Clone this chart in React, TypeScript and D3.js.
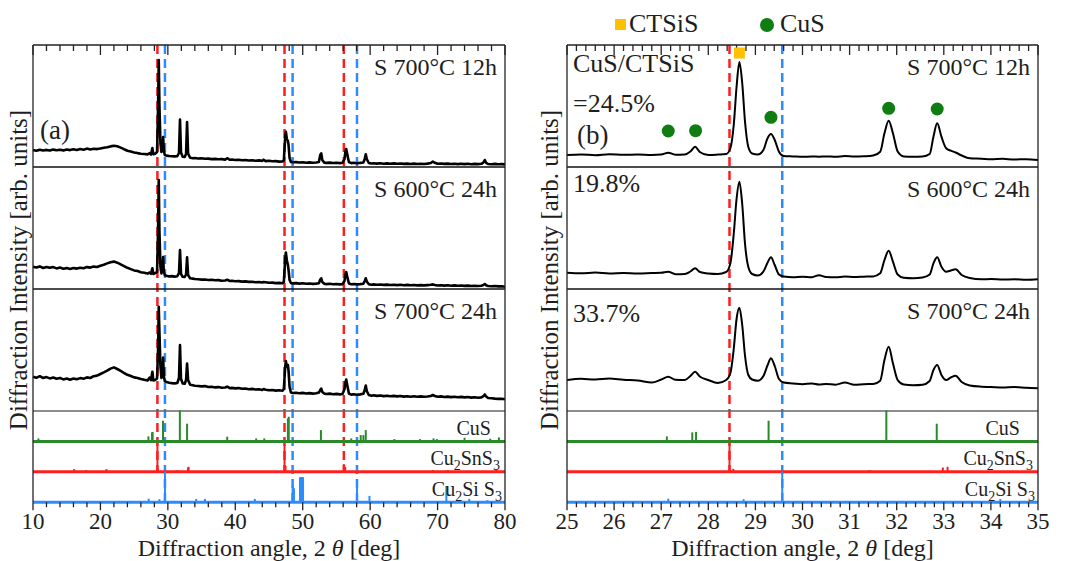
import React from 'react';
import * as d3 from 'd3';

// rows: [2θ (deg), S 700°C 12h, S 600°C 24h, S 700°C 24h]  (arb. units)
const scanA: number[][] = [
  [10.0, 17.0, 22.3, 34.3], [10.5, 16.2, 21.5, 33.2], [11.0, 17.3, 22.6, 34.8], [11.5, 16.5, 21.0, 33.0],
  [12.0, 17.1, 22.0, 33.9], [12.5, 16.4, 21.2, 32.6], [13.0, 17.4, 21.9, 33.5], [13.5, 16.8, 20.6, 32.2],
  [14.0, 17.2, 21.4, 33.1], [14.5, 16.6, 20.3, 31.6], [15.0, 17.5, 20.9, 32.4], [15.5, 16.9, 20.1, 31.3],
  [16.0, 17.7, 21.0, 32.5], [16.5, 17.0, 20.4, 31.7], [17.0, 17.9, 21.3, 32.9], [17.5, 17.2, 20.8, 32.2],
  [18.0, 18.4, 21.9, 33.6], [18.5, 17.6, 21.4, 33.0], [19.0, 18.3, 22.4, 34.8], [19.5, 17.9, 22.0, 35.4],
  [20.0, 18.6, 23.3, 37.0], [20.5, 19.3, 24.2, 38.6], [21.0, 19.8, 25.6, 40.3], [21.5, 20.6, 26.8, 42.4],
  [22.0, 21.2, 27.4, 43.6], [22.5, 20.7, 26.3, 42.0], [23.0, 19.4, 24.6, 40.1], [23.5, 17.8, 22.9, 38.0],
  [24.0, 16.3, 21.2, 36.2], [24.5, 15.5, 19.9, 35.0], [25.0, 14.6, 18.6, 33.6], [25.5, 13.9, 17.9, 33.0],
  [26.0, 13.3, 16.8, 31.9], [26.5, 13.0, 16.2, 31.2], [27.0, 12.6, 15.4, 30.6], [27.3, 13.8, 16.5, 33.5],
  [27.5, 12.5, 15.2, 30.8], [27.7, 19.0, 20.7, 39.3], [27.85, 12.8, 15.0, 30.5], [28.1, 13.2, 15.8, 31.0],
  [28.4, 15.0, 17.0, 32.5], [28.55, 60.0, 60.0, 62.0], [28.65, 107.0, 109.0, 104.3], [28.75, 62.0, 58.0, 79.0],
  [28.9, 24.0, 22.0, 45.0], [29.05, 15.0, 15.5, 33.0], [29.2, 18.0, 20.0, 38.0], [29.3, 30.0, 32.0, 53.5],
  [29.4, 17.0, 17.5, 35.0], [29.55, 12.0, 13.8, 30.0], [29.8, 11.4, 13.2, 29.0], [30.2, 11.0, 12.6, 28.3],
  [30.6, 10.7, 12.9, 27.9], [31.0, 10.6, 12.4, 27.6], [31.4, 10.9, 12.8, 28.0], [31.65, 14.0, 16.0, 33.0],
  [31.8, 47.5, 39.0, 66.0], [31.95, 14.5, 15.0, 32.0], [32.2, 10.2, 12.3, 27.5], [32.5, 10.0, 12.0, 27.2],
  [32.7, 13.0, 14.5, 31.0], [32.85, 45.0, 31.7, 47.5], [33.0, 13.5, 14.0, 31.0], [33.3, 9.2, 10.8, 26.2],
  [33.7, 8.8, 10.4, 25.7], [34.0, 9.0, 10.0, 25.3], [34.5, 8.5, 9.7, 25.0], [35.0, 8.7, 9.4, 24.6],
  [35.5, 8.2, 9.5, 24.9], [36.0, 8.4, 9.0, 24.0], [36.5, 7.9, 9.2, 24.3], [37.0, 8.1, 8.7, 23.6],
  [37.5, 7.7, 8.9, 23.9], [38.0, 7.9, 8.3, 23.2], [38.5, 7.4, 8.5, 23.5], [38.8, 8.8, 9.2, 24.4],
  [39.2, 7.2, 8.0, 22.8], [39.5, 7.5, 8.2, 23.1], [40.0, 7.0, 7.7, 22.6], [40.5, 7.3, 7.9, 22.9],
  [41.0, 6.8, 7.4, 22.2], [41.5, 7.0, 7.6, 22.5], [42.0, 6.5, 7.1, 21.8], [42.5, 6.8, 7.3, 22.1],
  [43.0, 6.3, 6.8, 21.5], [43.5, 6.6, 7.0, 21.8], [44.0, 6.1, 6.5, 21.1], [44.2, 7.3, 7.0, 21.9],
  [44.5, 5.9, 6.7, 21.3], [45.0, 6.2, 6.2, 20.7], [45.5, 5.7, 6.4, 21.0], [46.0, 5.9, 5.9, 20.4],
  [46.5, 5.4, 6.1, 20.7], [47.0, 5.6, 5.8, 20.2], [47.2, 6.5, 7.0, 22.0], [47.4, 30.0, 30.0, 44.0],
  [47.5, 35.3, 36.5, 50.0], [47.65, 28.0, 28.5, 44.0], [47.8, 26.0, 24.0, 46.0], [47.9, 22.0, 19.0, 40.0],
  [48.05, 9.0, 9.0, 24.0], [48.25, 5.0, 6.0, 18.5], [48.5, 4.7, 5.6, 18.0], [49.0, 4.9, 5.9, 18.3],
  [49.5, 4.5, 5.4, 17.8], [50.0, 4.8, 5.7, 18.1], [50.5, 4.3, 5.2, 17.5], [51.0, 4.6, 5.5, 17.9],
  [51.5, 4.2, 5.1, 17.4], [52.0, 4.5, 5.4, 17.7], [52.4, 5.0, 5.8, 18.4], [52.6, 12.0, 9.5, 21.0],
  [52.75, 13.7, 10.7, 22.5], [52.9, 7.0, 7.0, 19.0], [53.2, 4.4, 5.2, 17.4], [53.5, 4.1, 4.9, 17.0],
  [54.0, 4.4, 5.2, 17.4], [54.5, 4.0, 4.7, 16.8], [55.0, 4.3, 5.0, 17.1], [55.5, 3.9, 4.6, 16.6],
  [55.9, 4.2, 4.9, 17.0], [56.2, 8.0, 8.0, 22.0], [56.35, 16.0, 15.0, 29.0], [56.45, 18.0, 17.0, 31.5],
  [56.6, 13.0, 12.5, 26.0], [56.85, 5.0, 5.5, 17.5], [57.2, 3.9, 4.7, 16.4], [57.6, 4.2, 5.0, 16.8],
  [58.0, 3.8, 4.6, 16.2], [58.5, 4.1, 4.9, 16.6], [59.0, 4.5, 5.3, 17.2], [59.2, 8.0, 8.0, 21.0],
  [59.35, 12.7, 10.7, 25.5], [59.5, 8.0, 7.5, 20.0], [59.8, 4.0, 4.8, 16.0], [60.2, 3.5, 4.3, 15.3],
  [60.5, 3.8, 4.6, 15.7], [61.0, 3.4, 4.2, 15.1], [61.5, 3.7, 4.5, 15.5], [62.0, 3.3, 4.1, 14.9],
  [62.5, 3.6, 4.4, 15.3], [63.0, 3.2, 4.0, 14.7], [63.5, 3.6, 4.3, 15.1], [64.0, 3.2, 3.9, 14.6],
  [64.5, 3.5, 4.2, 15.0], [65.0, 3.1, 3.8, 14.4], [65.5, 3.4, 4.1, 14.8], [66.0, 3.0, 3.7, 14.3],
  [66.5, 3.4, 4.0, 14.7], [67.0, 3.0, 3.6, 14.2], [67.5, 3.3, 3.9, 14.6], [68.0, 3.0, 3.6, 14.2],
  [68.5, 3.4, 3.9, 14.5], [69.0, 4.0, 4.2, 15.0], [69.3, 5.4, 4.6, 16.0], [69.6, 4.2, 4.0, 15.0],
  [70.0, 3.2, 3.5, 14.2], [70.5, 3.5, 3.8, 14.6], [71.0, 3.1, 3.4, 14.0], [71.5, 3.4, 3.7, 14.4],
  [72.0, 3.0, 3.3, 13.9], [72.5, 3.3, 3.6, 14.3], [73.0, 2.9, 3.2, 13.7], [73.5, 3.3, 3.5, 14.1],
  [74.0, 2.9, 3.1, 13.6], [74.5, 3.2, 3.4, 14.0], [75.0, 2.8, 3.0, 13.4], [75.5, 3.1, 3.3, 13.8],
  [76.0, 2.9, 3.0, 13.3], [76.5, 3.2, 3.3, 13.6], [76.8, 4.5, 4.0, 14.8], [77.0, 7.0, 5.0, 16.5],
  [77.2, 4.2, 3.8, 14.5], [77.5, 3.0, 3.0, 13.0], [78.0, 2.8, 2.8, 12.8], [78.5, 3.1, 3.0, 12.4],
  [79.0, 2.7, 2.6, 12.1], [79.5, 2.9, 2.7, 12.3], [80.0, 2.6, 2.3, 11.7],
];

// rows: [2θ (deg), S 700°C 12h, S 600°C 24h, S 700°C 24h]  (arb. units)
const scanB: number[][] = [
  [25.0, 12.0, 16.3, 31.0], [25.3, 12.6, 15.8, 32.2], [25.6, 11.8, 16.4, 31.5], [25.9, 12.8, 15.6, 32.4],
  [26.2, 12.2, 16.0, 31.2], [26.5, 12.5, 15.4, 30.6], [26.8, 12.0, 15.9, 28.5], [27.0, 12.4, 16.2, 31.5],
  [27.15, 14.3, 17.3, 34.3], [27.3, 12.3, 14.8, 31.2], [27.5, 12.6, 15.0, 31.0], [27.62, 15.5, 17.5, 35.0],
  [27.72, 20.3, 20.7, 39.3], [27.82, 15.0, 17.0, 34.5], [28.0, 12.0, 15.5, 31.0], [28.2, 12.4, 15.0, 28.0],
  [28.38, 13.0, 17.0, 31.0], [28.47, 19.0, 26.0, 38.0], [28.54, 42.0, 55.0, 62.0], [28.6, 80.0, 90.0, 92.0],
  [28.66, 105.0, 107.3, 103.3], [28.72, 84.0, 85.0, 86.0], [28.78, 45.0, 45.0, 55.0], [28.85, 20.0, 22.0, 36.0],
  [28.93, 13.5, 15.0, 31.5], [29.05, 12.5, 13.5, 30.3], [29.17, 17.0, 17.5, 35.0], [29.26, 29.0, 26.5, 46.0],
  [29.33, 33.0, 31.7, 52.7], [29.41, 27.0, 24.0, 45.0], [29.5, 15.3, 14.5, 32.0], [29.6, 11.0, 12.5, 28.5],
  [29.8, 10.6, 11.7, 27.6], [30.0, 10.2, 12.2, 26.8], [30.2, 10.5, 11.8, 27.5], [30.35, 10.3, 13.8, 26.5],
  [30.5, 10.6, 12.0, 27.0], [30.7, 10.2, 11.8, 26.3], [30.9, 11.0, 12.4, 28.5], [31.1, 10.4, 12.0, 26.2],
  [31.3, 10.7, 12.3, 26.8], [31.5, 11.5, 12.6, 27.0], [31.65, 15.3, 15.7, 30.3], [31.74, 33.7, 29.0, 51.0],
  [31.83, 46.3, 38.3, 64.3], [31.92, 33.7, 27.3, 47.7], [32.02, 15.5, 14.5, 31.0], [32.15, 10.6, 11.2, 26.5],
  [32.35, 10.2, 10.7, 25.8], [32.55, 10.5, 11.5, 26.3], [32.7, 13.0, 14.5, 30.0], [32.78, 30.3, 25.7, 41.0],
  [32.86, 43.7, 31.7, 46.0], [32.95, 30.3, 22.3, 36.0], [33.05, 18.7, 17.3, 31.0], [33.15, 16.3, 18.5, 33.5],
  [33.25, 14.5, 19.7, 35.3], [33.38, 11.5, 14.0, 29.0], [33.55, 8.7, 11.0, 25.5], [33.8, 8.3, 9.7, 24.3],
  [34.0, 7.8, 10.0, 24.0], [34.25, 8.2, 9.5, 23.5], [34.5, 7.5, 9.7, 24.0], [34.75, 7.8, 9.2, 23.2],
  [35.0, 7.0, 9.7, 22.7],
];

const sampleLabels = ['S 700°C 12h', 'S 600°C 24h', 'S 700°C 24h'];
const ratioLabels = ['=24.5%', '19.8%', '33.7%'];

// reference patterns: [2θ, relative intensity]
const refCuS: number[][] = [
  [10.8, 3], [27.12, 5], [27.66, 9], [27.74, 9.5], [29.28, 20.7], [31.78, 31], [32.85, 17.7],
  [38.8, 4.7], [43.1, 3], [44.3, 3], [47.8, 23], [47.93, 24.7], [52.7, 11.3], [57.2, 3],
  [58.6, 6.3], [59.0, 6.3], [59.35, 11.3], [63.6, 2.3], [67.4, 2.3], [69.4, 3], [69.9, 2.3],
  [74.0, 3.7], [77.8, 2.7], [79.1, 4],
];
const refCTS: number[][] = [
  [16.1, 2.7], [17.9, 1.7], [20.9, 2.7], [28.45, 29.3], [28.53, 3], [31.42, 1.7], [32.98, 4.3],
  [33.08, 5], [47.3, 26.7], [47.45, 6], [56.1, 7.7], [56.3, 5], [69.3, 1.7], [71.5, 1.7], [78.7, 2.7],
];
const refCSS: number[][] = [
  [27.15, 3.5], [28.75, 3], [29.57, 30.7], [34.2, 3.3], [35.5, 3.3], [42.9, 3.3], [48.5, 16.3],
  [48.7, 14], [49.6, 25], [49.75, 25], [49.9, 25], [50.05, 25], [58.05, 20.7], [59.9, 6.3],
  [71.3, 15.7], [74.7, 3.3], [77.4, 2],
];

const redLines = [28.45, 47.3, 56.1];
const blueLines = [29.57, 48.5, 58.05];

const ticksA = [10, 20, 30, 40, 50, 60, 70, 80];
const ticksB = [25, 26, 27, 28, 29, 30, 31, 32, 33, 34, 35];

const cusMarkers: number[][] = [[27.15, 36], [27.73, 36.3], [29.33, 49.7], [31.83, 58.7], [32.86, 58]];
const ctsisMarkers: number[][] = [[28.66, 114]];

const FONT = "'Liberation Serif', 'Times New Roman', serif";
const TXT = '#1e1e1e';
const TOP = 45;
const STRIP_H = 122;
const REF_TOP = TOP + 3 * STRIP_H;
const REF_H = 30.4;
const BOTTOM = REF_TOP + 3 * REF_H;
const RED = '#ff1e1e';
const BLUE = '#2b8cff';
const GREEN = '#2a8a2a';
const DOT_GREEN = '#0f7d12';
const ORANGE = '#ffc000';

type PanelProps = {
  domain: [number, number];
  range: [number, number];
  scan: number[][];
  labels: number[];
  minorCount: number;
  smooth: boolean;
  stickW: number;
  cusLabelGap: number;
};

function Panel({ domain, range, scan, labels, minorCount, smooth, stickW, cusLabelGap }: PanelProps) {
  const x = d3.scaleLinear().domain(domain).range(range);
  const [x0, x1] = range;
  const strips = [0, 1, 2];
  const minor = x.ticks(minorCount);
  const refs = [
    { data: refCuS, color: GREEN },
    { data: refCTS, color: RED },
    { data: refCSS, color: BLUE },
  ];
  const inDom = (v: number) => v >= domain[0] && v <= domain[1];
  return (
    <g>
      {/* dashed guide lines */}
      {redLines.filter(inDom).map((v, i) => (
        <line key={'r' + i} x1={x(v)} x2={x(v)} y1={TOP} y2={REF_TOP + 2 * REF_H}
          stroke={RED} strokeWidth={2.5} strokeDasharray="9 5" />
      ))}
      {blueLines.filter(inDom).map((v, i) => (
        <line key={'b' + i} x1={x(v)} x2={x(v)} y1={TOP} y2={BOTTOM}
          stroke={BLUE} strokeWidth={2.5} strokeDasharray="9 5" />
      ))}
      {/* sample strips */}
      {strips.map((k) => {
        const yb = TOP + (k + 1) * STRIP_H;
        const y = d3.scaleLinear().domain([0, STRIP_H]).range([yb, yb - STRIP_H]);
        const line = d3.line<number[]>()
          .x((d) => x(d[0]))
          .y((d) => y(d[k + 1]))
          .curve(smooth ? d3.curveMonotoneX : d3.curveLinear);
        return (
          <g key={k}>
            <path d={line(scan) || ''} fill="none" stroke="#000" strokeWidth={smooth ? 2 : 2.6}
              strokeLinejoin="round" />
            <text x={x1 - 8} y={TOP + k * STRIP_H + 30} textAnchor="end" fontSize={24}
              fontFamily={FONT} fill={TXT}>{sampleLabels[k]}</text>
          </g>
        );
      })}
      {/* strip dividers */}
      <line x1={x0} x2={x1} y1={TOP + STRIP_H} y2={TOP + STRIP_H} stroke="#111" strokeWidth={1.3} />
      <line x1={x0} x2={x1} y1={TOP + 2 * STRIP_H} y2={TOP + 2 * STRIP_H} stroke="#111" strokeWidth={1.3} />
      <line x1={x0} x2={x1} y1={REF_TOP} y2={REF_TOP} stroke="#666" strokeWidth={1.3} />
      {/* reference patterns */}
      {refs.map((r, i) => {
        const yb = REF_TOP + (i + 1) * REF_H;
        const y = d3.scaleLinear().domain([0, REF_H]).range([yb, yb - REF_H]);
        return (
          <g key={i}>
            {r.data.filter((d) => inDom(d[0])).map((d, j) => (
              <line key={j} x1={x(d[0])} x2={x(d[0])} y1={y(0)} y2={y(d[1])}
                stroke={r.color} strokeWidth={stickW} />
            ))}
            <line x1={x0} x2={x1} y1={yb} y2={yb} stroke={r.color} strokeWidth={3} />
          </g>
        );
      })}
      {/* reference labels */}
      <text x={x1 - cusLabelGap} y={REF_TOP + REF_H - 6} textAnchor="end" fontSize={20}
        fontFamily={FONT} fill={TXT}>CuS</text>
      <text x={x1 - 5} y={REF_TOP + 2 * REF_H - 7} textAnchor="end" fontSize={20}
        fontFamily={FONT} fill={TXT}>
        Cu<tspan fontSize={14} dy={5}>2</tspan><tspan dy={-5}>SnS</tspan><tspan fontSize={14} dy={5}>3</tspan>
      </text>
      <text x={x1 - 3} y={BOTTOM - 6} textAnchor="end" fontSize={20} fontFamily={FONT} fill={TXT}>
        Cu<tspan fontSize={14} dy={5}>2</tspan><tspan dy={-5}>Si S</tspan><tspan fontSize={14} dy={5}>3</tspan>
      </text>
      {/* frame */}
      <line x1={x0} x2={x1} y1={TOP} y2={TOP} stroke="#222" strokeWidth={1.3} />
      <line x1={x0} x2={x0} y1={TOP} y2={BOTTOM} stroke="#222" strokeWidth={1.3} />
      <line x1={x1} x2={x1} y1={TOP} y2={BOTTOM} stroke="#222" strokeWidth={1.3} />
      {/* ticks */}
      {minor.map((v, i) => {
        const major = labels.some((l) => Math.abs(l - v) < 1e-6);
        return (
          <g key={i}>
            <line x1={x(v)} x2={x(v)} y1={TOP} y2={TOP + (major ? 10 : 6)} stroke="#222" strokeWidth={1.3} />
            <line x1={x(v)} x2={x(v)} y1={BOTTOM} y2={BOTTOM + (major ? 8 : 5)} stroke="#222" strokeWidth={1.3} />
          </g>
        );
      })}
      {labels.map((v) => (
        <text key={v} x={x(v)} y={529} textAnchor="middle" fontSize={23} fontFamily={FONT} fill={TXT}>{v}</text>
      ))}
      <text x={(x0 + x1) / 2} y={556} textAnchor="middle" fontSize={24} fontFamily={FONT} fill={TXT}>
        Diffraction angle, 2 <tspan fontStyle="italic">θ</tspan> [deg]
      </text>
    </g>
  );
}

export default function App() {
  const xB = d3.scaleLinear().domain([25, 35]).range([567, 1038]);
  const yB1 = d3.scaleLinear().domain([0, STRIP_H]).range([TOP + STRIP_H, TOP]);
  return (
    <svg width={1071} height={561} style={{ position: 'absolute', left: 0, top: 0, background: '#fff' }}>
      <rect width={1071} height={561} fill="#fff" />
      <Panel domain={[10, 80]} range={[33, 505]} scan={scanA} labels={ticksA} minorCount={35}
        smooth={false} stickW={2} cusLabelGap={14} />
      <Panel domain={[25, 35]} range={[567, 1038]} scan={scanB} labels={ticksB} minorCount={50}
        smooth={true} stickW={2} cusLabelGap={18} />

      {/* y axis titles */}
      <text transform="translate(27,270) rotate(-90)" textAnchor="middle" fontSize={25}
        fontFamily={FONT} fill={TXT}>Diffraction Intensity [arb. units]</text>
      <text transform="translate(558,270) rotate(-90)" textAnchor="middle" fontSize={25}
        fontFamily={FONT} fill={TXT}>Diffraction Intensity [arb. units]</text>

      {/* panel letters */}
      <text x={40} y={139} fontSize={27} fontFamily={FONT} fill={TXT}>(a)</text>
      <text x={577} y={144} fontSize={27} fontFamily={FONT} fill={TXT}>(b)</text>

      {/* ratio annotations */}
      <text x={573} y={72} fontSize={26} fontFamily={FONT} fill={TXT}>CuS/CTSiS</text>
      <text x={573} y={112} fontSize={26} fontFamily={FONT} fill={TXT}>{ratioLabels[0]}</text>
      <text x={573} y={TOP + STRIP_H + 25} fontSize={26} fontFamily={FONT} fill={TXT}>{ratioLabels[1]}</text>
      <text x={573} y={TOP + 2 * STRIP_H + 33} fontSize={26} fontFamily={FONT} fill={TXT}>{ratioLabels[2]}</text>

      {/* phase markers */}
      {cusMarkers.map((d, i) => (
        <circle key={i} cx={xB(d[0])} cy={yB1(d[1])} r={6.5} fill={DOT_GREEN} />
      ))}
      {ctsisMarkers.map((d, i) => (
        <rect key={i} x={xB(d[0]) - 5.5} y={yB1(d[1]) - 5.5} width={11} height={11} fill={ORANGE} />
      ))}

      {/* legend */}
      <rect x={615} y={19} width={11} height={11} fill={ORANGE} />
      <text x={629} y={32} fontSize={26} fontFamily={FONT} fill={TXT}>CTSiS</text>
      <circle cx={767} cy={25} r={7} fill={DOT_GREEN} />
      <text x={780} y={32} fontSize={26} fontFamily={FONT} fill={TXT}>CuS</text>
    </svg>
  );
}
